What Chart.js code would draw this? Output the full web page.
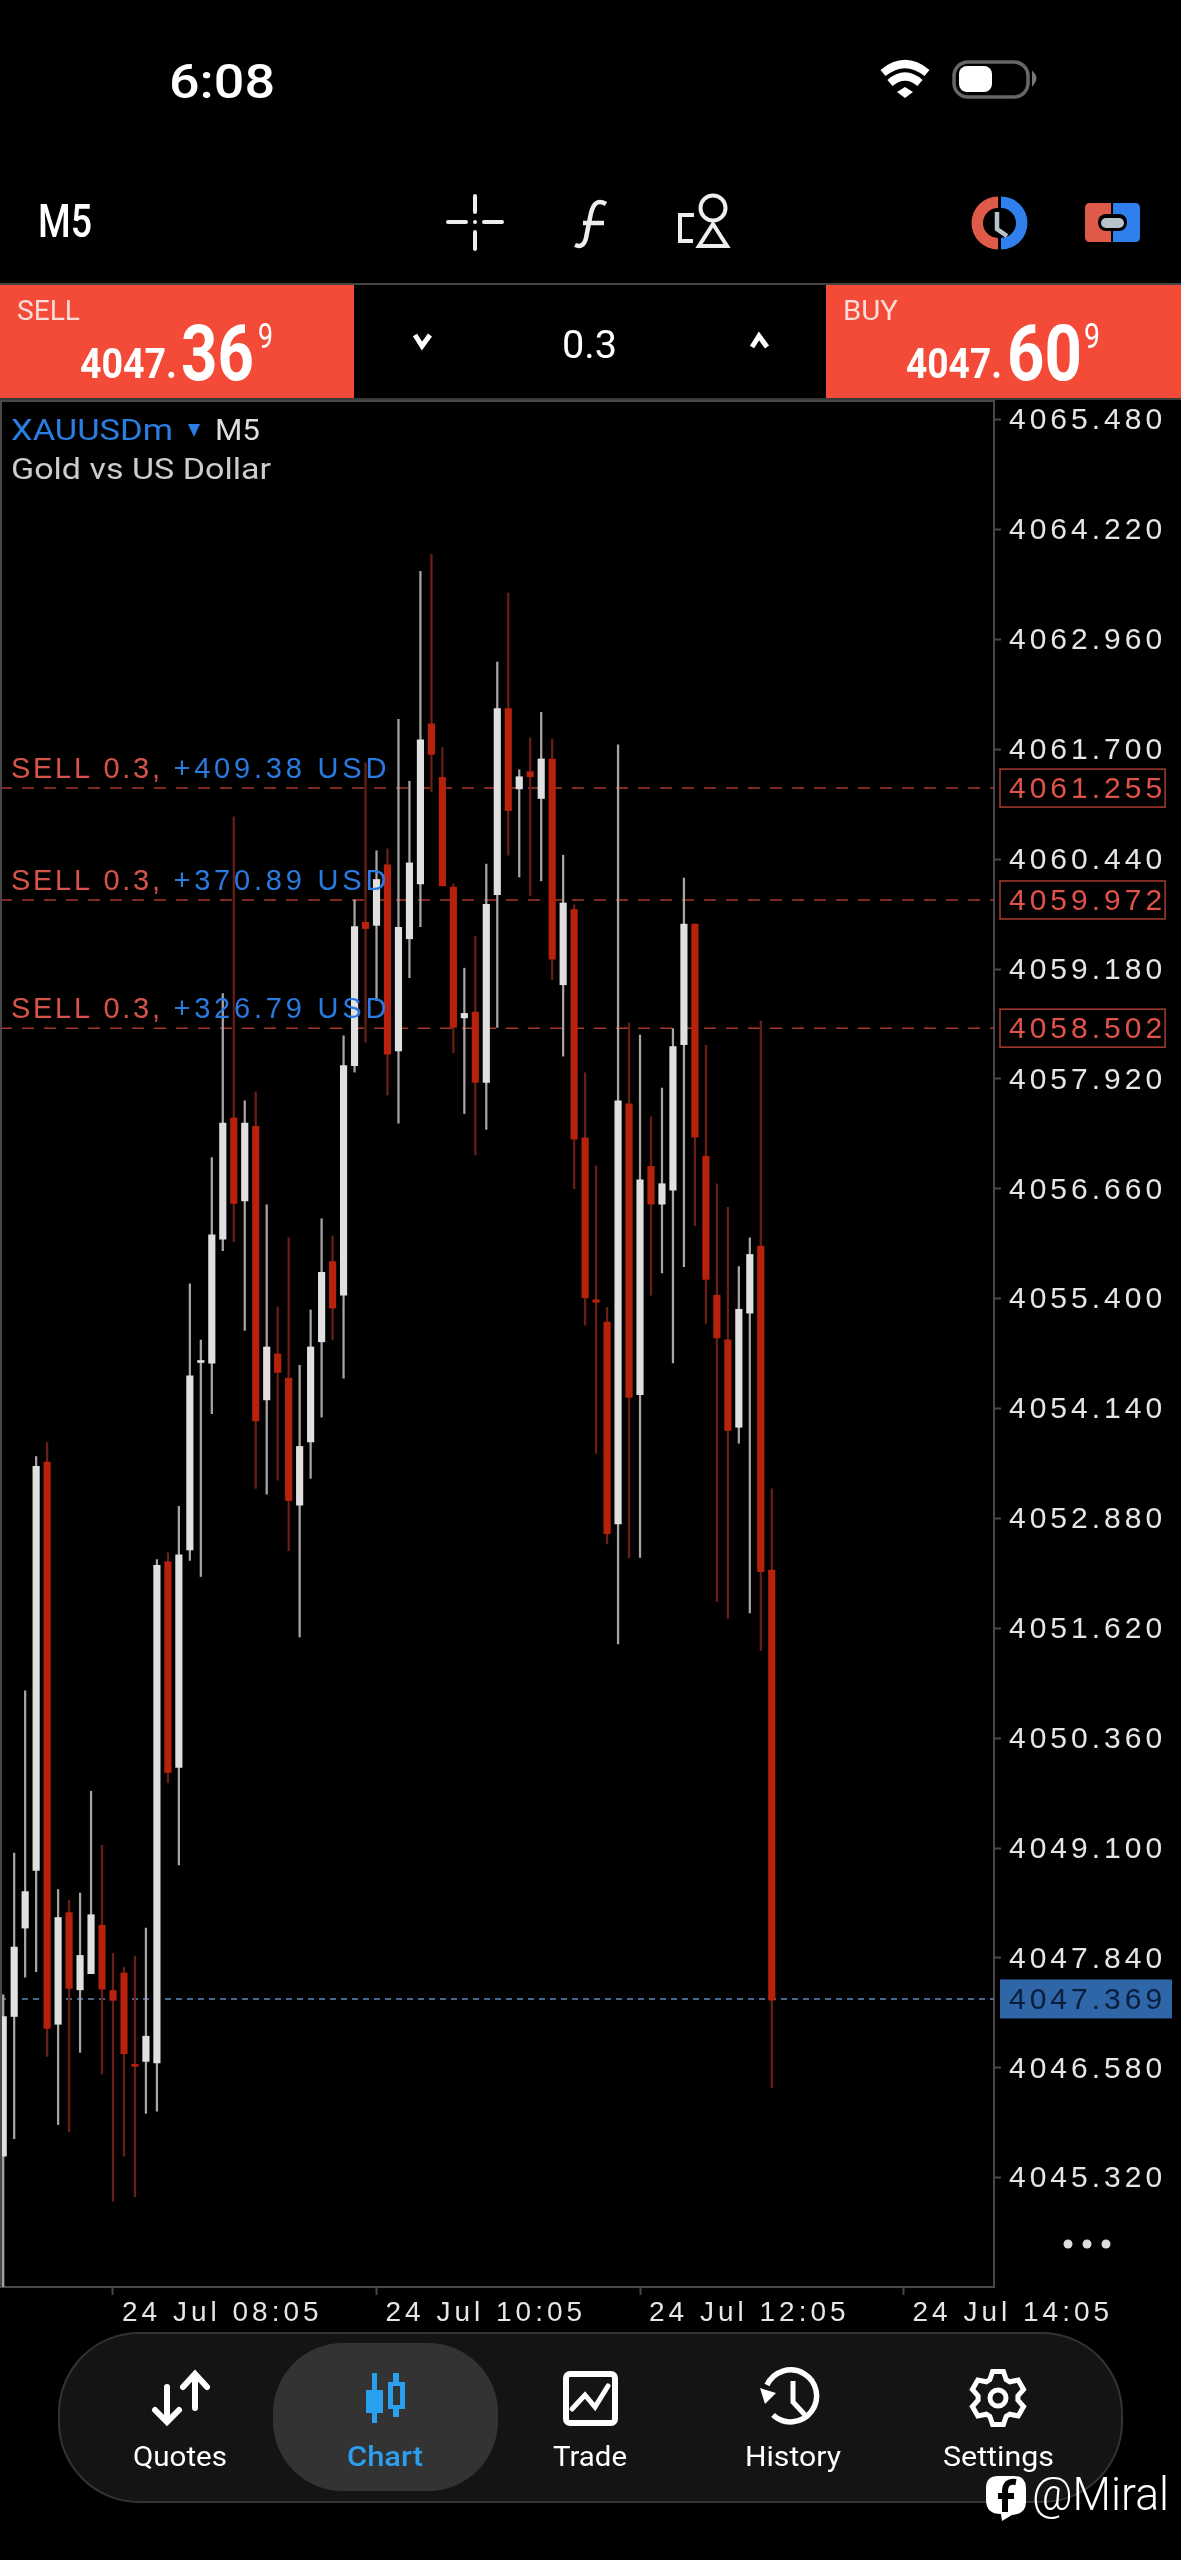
<!DOCTYPE html>
<html lang="en">
<head>
<meta charset="UTF-8">
<title>XAUUSDm M5</title>
<script src="https://cdn.jsdelivr.net/npm/chart.js"></script>
<style>
    html, body { margin: 0; background: #000; width: 1181px; height: 2560px; overflow: hidden; }
    canvas { position: absolute; left: 0; top: 0; }
    #ui { position: absolute; left: 0; top: 0; font-family: Roboto, sans-serif; }
</style>
</head>
<body>

<canvas id="chart" width="1181" height="2560"></canvas>

<svg id="ui" width="1181" height="2560" viewBox="0 0 1181 2560" fill="none">
    <!-- status bar -->
    <text x="169" y="98" font-size="48" font-weight="500" fill="#fff" textLength="106" lengthAdjust="spacingAndGlyphs">6:08</text>
    <path d="M883 73 Q905 55 927 73 M890 83 Q905 70 920 83" stroke="#fff" stroke-width="8"/>
    <path d="M897 92 L905 87 L913 92 L905 98 Z" fill="#fff"/>
    <rect x="954" y="62" width="74" height="35" rx="14" stroke="#666" stroke-width="3.5"/>
    <rect x="959" y="66" width="33" height="26" rx="8" fill="#fff"/>
    <path d="M1033 73 Q1038 78 1033 84 Z" fill="#777" stroke="#777" stroke-width="2"/>

    <!-- toolbar -->
    <text x="38" y="237" font-size="46" font-weight="500" fill="#fff" textLength="54" lengthAdjust="spacingAndGlyphs">M5</text>
    <path d="M475 196 V212 M475 232 V249 M448 222 H466 M484 222 H502" stroke="#eee" stroke-width="4" stroke-linecap="round"/>
    <circle cx="475" cy="222" r="2" fill="#eee"/>
    <path d="M606 204 C596 198 592 206 590 218 L586 238 C584 246 580 247 575 245 M583 223 H604" stroke="#eee" stroke-width="4.5"/>
    <circle cx="713" cy="208" r="12.5" stroke="#eee" stroke-width="4"/>
    <path d="M713 224 L727 246 H699 Z M694 215 H680 V241 H693" stroke="#eee" stroke-width="4"/>
    <path d="M998 196.500 A26.500 26.500 0 0 0 998 249.500 V238 A15 15 0 0 1 998 208 Z" fill="#e05a4a"/>
    <path d="M1001 196.500 A26.500 26.500 0 0 1 1001 249.500 V238 A15 15 0 0 0 1001 208 Z" fill="#2f80ed"/>
    <path d="M997 212 V229 L1007 236" stroke="#b8c4cc" stroke-width="4.500"/>
    <path d="M1111 203 H1090 Q1085 203 1085 208 V237 Q1085 242 1090 242 H1111 Z" fill="#e05a4a"/>
    <path d="M1113 203 H1135 Q1140 203 1140 208 V237 Q1140 242 1135 242 H1113 Z" fill="#2f80ed"/>
    <rect x="1098" y="214" width="29" height="17" rx="8" fill="#000"/>
    <rect x="1101" y="218" width="23" height="10" rx="5" fill="#b8c4cc"/>

    <!-- order bar -->
    <line x1="0" y1="284" x2="1181" y2="284" stroke="#444" stroke-width="2"/>
    <rect x="0" y="285" width="354" height="113" fill="#f44a38"/>
    <rect x="826" y="285" width="355" height="113" fill="#f44a38"/>
    <line x1="0" y1="399" x2="1181" y2="399" stroke="#3a3a3a" stroke-width="2"/>
    <text x="17" y="320" font-size="27" fill="#f8dcd8" textLength="63" lengthAdjust="spacingAndGlyphs">SELL</text>
    <text x="80" y="378" font-size="42" font-weight="700" fill="#fff" textLength="97" lengthAdjust="spacingAndGlyphs">4047.</text>
    <text x="181" y="380" font-size="78" font-weight="700" fill="#fff" textLength="73" lengthAdjust="spacingAndGlyphs">36</text>
    <text x="258" y="348" font-size="35" fill="#fff" textLength="15" lengthAdjust="spacingAndGlyphs">9</text>
    <text x="843" y="320" font-size="27" fill="#f8dcd8" textLength="55" lengthAdjust="spacingAndGlyphs">BUY</text>
    <text x="906" y="378" font-size="42" font-weight="700" fill="#fff" textLength="96" lengthAdjust="spacingAndGlyphs">4047.</text>
    <text x="1007" y="380" font-size="78" font-weight="700" fill="#fff" textLength="75" lengthAdjust="spacingAndGlyphs">60</text>
    <text x="1084" y="348" font-size="35" fill="#fff" textLength="16" lengthAdjust="spacingAndGlyphs">9</text>
    <text x="562" y="358" font-size="39" fill="#fff" textLength="55" lengthAdjust="spacingAndGlyphs">0.3</text>
    <path d="M415 335 L422 346 L430 335" stroke="#fff" stroke-width="5"/>
    <path d="M752 347 L759 336 L767 347" stroke="#fff" stroke-width="5"/>

    <!-- symbol caption -->
    <text x="11" y="440" font-size="30" fill="#2a7de1" textLength="162" lengthAdjust="spacingAndGlyphs">XAUUSDm</text>
    <path d="M188 424 H200 L194 437 Z" fill="#2a7de1"/>
    <text x="215" y="440" font-size="30" fill="#ddd" textLength="45" lengthAdjust="spacingAndGlyphs">M5</text>
    <text x="11" y="479" font-size="30" fill="#ccc" textLength="260" lengthAdjust="spacingAndGlyphs">Gold vs US Dollar</text>

    <!-- more -->
    <circle cx="1068" cy="2244" r="4.500" fill="#ddd"/>
    <circle cx="1087" cy="2244" r="4.500" fill="#ddd"/>
    <circle cx="1106" cy="2244" r="4.500" fill="#ddd"/>

    <!-- bottom nav -->
    <rect x="59" y="2333" width="1063" height="169" rx="80" fill="#141414" stroke="#333" stroke-width="2"/>
    <rect x="273" y="2343" width="225" height="148" rx="70" fill="#333"/>

    <path d="M167 2387 V2421 M155 2410 L167 2422 L179 2410 M195 2408 V2375 M183 2387 L195 2374 L207 2387" stroke="#fff" stroke-width="6" stroke-linecap="round"/>
    <path fill-rule="evenodd" fill="#2ba0ee" d="M372 2373 H377 V2390 H383 V2413 H377 V2423 H372 V2413 H366 V2390 H372 Z M393 2373 H399 V2382 H405 V2409 H399 V2417 H393 V2409 H388 V2382 H393 Z M393 2386 V2405 H400 V2386 Z"/>
    <rect x="566" y="2374" width="49" height="49" rx="4" stroke="#fff" stroke-width="6"/>
    <path d="M572 2409 L585 2395 L595 2407 L608 2386" stroke="#fff" stroke-width="5" stroke-linecap="round"/>
    <path d="M767 2385 A26 26 0 1 1 773 2415" stroke="#fff" stroke-width="5.500"/>
    <path d="M760 2388 L776 2393 L765 2404 Z" fill="#fff"/>
    <path d="M793 2381 V2402 L806 2416" stroke="#fff" stroke-width="5"/>
    <path id="gear" stroke="#fff" stroke-width="5"/>
    <circle cx="998" cy="2398" r="8" stroke="#fff" stroke-width="5"/>

    <text x="133" y="2466" font-size="27" fill="#fff" textLength="94" lengthAdjust="spacingAndGlyphs">Quotes</text>
    <text x="347" y="2466" font-size="27" font-weight="500" fill="#2ba0ee" textLength="76" lengthAdjust="spacingAndGlyphs">Chart</text>
    <text x="553" y="2466" font-size="27" fill="#fff" textLength="74" lengthAdjust="spacingAndGlyphs">Trade</text>
    <text x="745" y="2466" font-size="27" fill="#fff" textLength="96" lengthAdjust="spacingAndGlyphs">History</text>
    <text x="943" y="2466" font-size="27" fill="#fff" textLength="111" lengthAdjust="spacingAndGlyphs">Settings</text>

    <!-- watermark -->
    <path d="M998 2476 H1014 Q1026 2476 1026 2488 V2502 Q1026 2514 1012 2515 L1002 2521 L1001 2514 Q986 2514 986 2500 V2488 Q986 2476 998 2476 Z" fill="#fff"/>
    <path d="M1016 2482 Q1005 2480 1005 2492 V2512 M998 2496 H1014" stroke="#000" stroke-width="6"/>
    <text x="1032" y="2510" font-size="46" font-weight="300" fill="#fff" textLength="137" lengthAdjust="spacingAndGlyphs">@Miral</text>
</svg>

<script>
// price axis
const priceTicks = [4065.48, 4064.22, 4062.96, 4061.70, 4060.44, 4059.18, 4057.92, 4056.66, 4055.40, 4054.14, 4052.88, 4051.62, 4050.36, 4049.10, 4047.84, 4046.58, 4045.32];
// time axis, bar index -> label
const timeTickBars = [10, 34, 58, 82];
const timeTickLabels = ['24 Jul 08:05', '24 Jul 10:05', '24 Jul 12:05', '24 Jul 14:05'];

// candles
const opens = [4045.566, 4047.168, 4048.182, 4048.842, 4053.525, 4047.079, 4048.359, 4047.474, 4047.659, 4048.214, 4047.466, 4047.667,
    4046.612, 4046.653, 4046.637, 4052.383, 4050.025, 4052.519, 4054.668, 4054.660, 4056.082, 4057.472, 4056.521, 4057.377,
    4054.239, 4054.766, 4054.488, 4053.032, 4053.757, 4054.905, 4055.826, 4055.439, 4058.072, 4059.717, 4059.681, 4060.375,
    4058.240, 4059.527, 4060.156, 4061.992, 4061.377, 4060.119, 4058.620, 4058.686, 4057.881, 4060.032, 4062.167, 4061.246,
    4061.443, 4061.136, 4061.589, 4059.000, 4059.863, 4057.245, 4055.387, 4055.131, 4052.817, 4057.633, 4054.298, 4056.916,
    4056.484, 4056.645, 4058.313, 4059.695, 4057.033, 4055.439, 4054.927, 4053.925, 4055.234, 4056.002, 4052.288];
const highs = [4047.417, 4049.043, 4050.902, 4053.590, 4053.751, 4048.624, 4048.504, 4048.584, 4049.751, 4049.131, 4047.892, 4047.731,
    4047.860, 4048.182, 4052.407, 4052.487, 4053.018, 4055.570, 4054.926, 4057.018, 4058.898, 4060.924, 4057.669, 4057.772,
    4056.477, 4055.307, 4056.097, 4054.634, 4055.270, 4056.316, 4056.119, 4058.415, 4059.973, 4061.546, 4060.536, 4060.558,
    4062.043, 4061.333, 4063.740, 4063.937, 4061.721, 4060.156, 4059.190, 4059.556, 4060.383, 4062.701, 4063.491, 4061.465,
    4061.831, 4062.123, 4061.816, 4060.485, 4059.915, 4057.991, 4056.923, 4055.300, 4061.750, 4058.562, 4058.423, 4057.486,
    4057.815, 4058.496, 4060.222, 4059.695, 4058.305, 4056.718, 4056.448, 4055.768, 4056.097, 4058.583, 4053.220];
const lows = [4044.070, 4045.767, 4047.618, 4047.683, 4046.709, 4045.928, 4045.848, 4046.757, 4047.659, 4046.508, 4045.050, 4045.566,
    4045.100, 4046.057, 4046.081, 4049.848, 4048.906, 4052.399, 4052.214, 4054.081, 4055.950, 4056.053, 4055.036, 4053.223,
    4053.157, 4053.318, 4052.511, 4051.522, 4053.340, 4054.042, 4054.927, 4054.488, 4057.998, 4058.342, 4058.817, 4057.735,
    4057.413, 4059.081, 4059.666, 4061.216, 4060.134, 4058.218, 4057.523, 4057.048, 4057.340, 4058.510, 4060.485, 4060.236,
    4060.024, 4060.192, 4059.059, 4058.181, 4056.660, 4055.095, 4053.625, 4052.587, 4051.441, 4052.428, 4052.434, 4055.439,
    4055.695, 4054.663, 4055.768, 4056.236, 4055.117, 4051.927, 4051.732, 4053.742, 4051.795, 4051.364, 4046.353];
const closes = [4047.168, 4047.964, 4048.600, 4053.477, 4047.031, 4048.303, 4047.490, 4047.868, 4048.335, 4047.482, 4047.353, 4046.741,
    4046.596, 4046.942, 4052.342, 4049.968, 4052.463, 4054.515, 4054.684, 4056.133, 4057.413, 4056.492, 4057.413, 4053.998,
    4054.846, 4054.554, 4053.084, 4053.705, 4054.846, 4055.702, 4055.292, 4058.072, 4059.666, 4059.644, 4060.207, 4058.203,
    4059.659, 4060.397, 4061.809, 4061.641, 4060.134, 4058.510, 4058.671, 4057.881, 4059.922, 4062.167, 4060.997, 4061.385,
    4061.385, 4061.589, 4059.293, 4059.937, 4057.230, 4055.409, 4055.358, 4052.706, 4057.669, 4054.268, 4056.762, 4056.484,
    4056.718, 4058.291, 4059.695, 4057.252, 4055.621, 4054.949, 4053.888, 4055.278, 4055.907, 4052.268, 4047.354];

// open orders and the current bid
const orderPrices = [4061.255, 4059.972, 4058.502];
const orderSides = ['SELL 0.3, ', 'SELL 0.3, ', 'SELL 0.3, '];
const orderProfits = ['+409.38 USD', '+370.89 USD', '+326.79 USD'];
const bidPrice = 4047.369;

const xMin = -0.2914, xMax = 90.24;
const BULL = '#e0e0e0', BEAR = '#b8210c', BULL_WICK = '#a6a6a6', BEAR_WICK = '#6b1e14';
const AXIS = '#484848', LABEL = '#e6e6e6';

const idx = opens.map((_, i) => i);
const isBull = i => closes[i] >= opens[i];

function levelLine(price, color, dash, width) {
    return {
        type: 'line',
        data: [{x: xMin, y: price}, {x: xMax, y: price}],
        borderColor: color,
        borderWidth: width,
        borderDash: dash,
        pointRadius: 0,
        order: 3
    };
}

// extra canvas text: order captions and the boxed prices on the axis
const orderMarks = {
    id: 'orderMarks',
    beforeDraw(chart) {
        chart.ctx.letterSpacing = '4px';
    },
    afterDatasetsDraw(chart) {
        const ctx = chart.ctx, y = chart.scales.y;
        ctx.save();
        ctx.font = '29px "Liberation Sans"';
        ctx.textBaseline = 'middle';
        ctx.textAlign = 'left';
        orderPrices.forEach((p, i) => {
            const py = y.getPixelForValue(p);
            ctx.letterSpacing = '2.7px';
            ctx.fillStyle = '#d9534a';
            ctx.fillText(orderSides[i], 11, py - 18);
            const sideWidth = ctx.measureText(orderSides[i]).width;
            ctx.letterSpacing = '3.8px';
            ctx.fillStyle = '#2a7ae0';
            ctx.fillText(orderProfits[i], 11 + sideWidth, py - 18);
        });
        ctx.restore();
    },
    afterDraw(chart) {
        const ctx = chart.ctx, y = chart.scales.y, area = chart.chartArea;
        ctx.save();
        ctx.strokeStyle = AXIS;
        ctx.lineWidth = 2;
        ctx.beginPath();
        ctx.moveTo(1, area.bottom);
        ctx.lineTo(1, area.top);
        ctx.lineTo(area.right, area.top);
        ctx.stroke();

        ctx.font = '30px "Liberation Sans"';
        ctx.textBaseline = 'middle';
        ctx.textAlign = 'left';
        orderPrices.forEach(p => {
            const py = y.getPixelForValue(p), s = p.toFixed(3);
            const w = ctx.measureText(s).width + 8;
            ctx.strokeStyle = '#a83a30';
            ctx.lineWidth = 1.5;
            ctx.strokeRect(1000, py - 19, w, 38);
            ctx.fillStyle = '#e0524a';
            ctx.fillText(s, 1009, py + 1.5);
        });
        const by = y.getPixelForValue(bidPrice), bs = bidPrice.toFixed(3);
        ctx.fillStyle = '#2f66a8';
        ctx.fillRect(1000, by - 19.5, 172, 39);
        ctx.fillStyle = '#0a1e3c';
        ctx.fillText(bs, 1009, by + 1.5);
        ctx.restore();
    }
};

new Chart(document.getElementById('chart'), {
    type: 'bar',
    data: {
        datasets: [
            ...orderPrices.map(p => levelLine(p, '#a5392e', [12, 10], 1.5)),
            levelLine(bidPrice, '#5d88c0', [6, 5], 1.5),
            {
                data: idx.map(i => ({x: i, y: [lows[i], highs[i]]})),
                backgroundColor: idx.map(i => isBull(i) ? BULL_WICK : BEAR_WICK),
                barThickness: 1.6,
                order: 2
            },
            {
                data: idx.map(i => ({x: i, y: [opens[i], closes[i]]})),
                backgroundColor: idx.map(i => isBull(i) ? BULL : BEAR),
                barThickness: 6.5,
                minBarLength: 2,
                order: 1
            }
        ]
    },
    options: {
        responsive: false,
        animation: false,
        events: [],
        layout: {padding: {top: 401}},
        datasets: {bar: {grouped: false}},
        plugins: {legend: {display: false}, tooltip: {enabled: false}},
        scales: {
            x: {
                type: 'linear',
                offset: false,
                min: xMin,
                max: xMax,
                afterBuildTicks: s => { s.ticks = timeTickBars.map(v => ({value: v})); },
                afterFit: s => { s.height = 273; },
                border: {color: AXIS, width: 2},
                grid: {offset: false, drawOnChartArea: false, color: AXIS, tickLength: 8, tickWidth: 2},
                ticks: {
                    autoSkip: false,
                    maxRotation: 0,
                    align: 'start',
                    labelOffset: 9,
                    padding: 1,
                    color: LABEL,
                    font: {family: 'Liberation Sans', size: 28},
                    callback: v => timeTickLabels[timeTickBars.indexOf(v)]
                }
            },
            y: {
                type: 'linear',
                position: 'right',
                min: 4044.066,
                max: 4065.694,
                afterBuildTicks: s => { s.ticks = priceTicks.map(v => ({value: v})); },
                afterFit: s => { s.width = 187; },
                border: {color: AXIS, width: 2},
                grid: {drawOnChartArea: false, color: AXIS, tickLength: 7, tickWidth: 2},
                ticks: {
                    autoSkip: false,
                    padding: 8,
                    labelOffset: 1.5,
                    color: LABEL,
                    font: {family: 'Liberation Sans', size: 30},
                    callback: v => v.toFixed(3)
                }
            }
        }
    },
    plugins: [orderMarks]
});

// six tooth settings gear
const gearPts = [];
for (let k = 0; k < 6; k++) {
    const a = k * Math.PI / 3 - Math.PI / 2;
    [[20, -0.42], [27, -0.2], [27, 0.2], [20, 0.42]].forEach(([r, d]) => {
        gearPts.push((998 + r * Math.cos(a + d)).toFixed(1) + ' ' + (2398 + r * Math.sin(a + d)).toFixed(1));
    });
}
document.getElementById('gear').setAttribute('d', 'M' + gearPts.join(' L') + ' Z');
</script>

</body>
</html>
